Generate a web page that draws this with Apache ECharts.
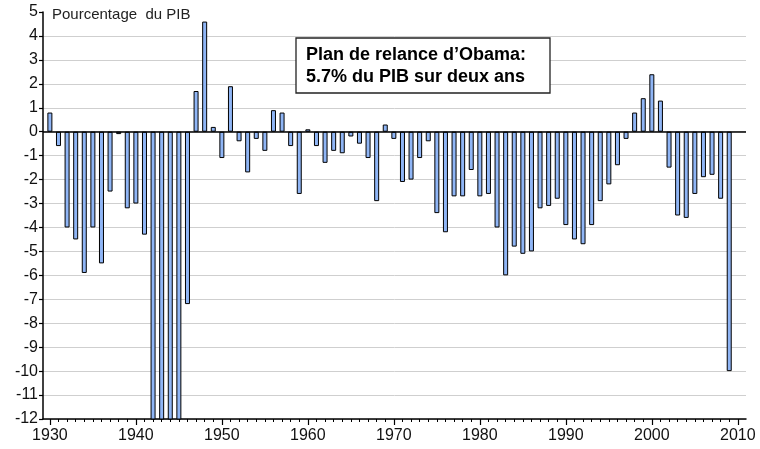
<!DOCTYPE html>
<html>
<head>
<meta charset="utf-8">
<script src="https://cdn.jsdelivr.net/npm/echarts@6/dist/echarts.min.js"></script>
<style>
html,body{margin:0;padding:0;background:#fff;}
#c{width:760px;height:449px;}
</style>
</head>
<body>
<div id="c"></div>
<script>
// Federal budget balance, % of GDP
var years = [];
for (var y = 1930; y <= 2009; y++) years.push(y);
var balance = [
  0.8, -0.6, -4.0, -4.5, -5.9, -4.0, -5.5, -2.5, -0.1, -3.2,
  -3.0, -4.3, -14.2, -30.3, -22.7, -21.5, -7.2, 1.7, 4.6, 0.2,
  -1.1, 1.9, -0.4, -1.7, -0.3, -0.8, 0.9, 0.8, -0.6, -2.6,
  0.1, -0.6, -1.3, -0.8, -0.9, -0.2, -0.5, -1.1, -2.9, 0.3,
  -0.3, -2.1, -2.0, -1.1, -0.4, -3.4, -4.2, -2.7, -2.7, -1.6,
  -2.7, -2.6, -4.0, -6.0, -4.8, -5.1, -5.0, -3.2, -3.1, -2.8,
  -3.9, -4.5, -4.7, -3.9, -2.9, -2.2, -1.4, -0.3, 0.8, 1.4,
  2.4, 1.3, -1.5, -3.5, -3.6, -2.6, -1.9, -1.8, -2.8, -10.0
];
var decadeTicks = [1930, 1940, 1950, 1960, 1970, 1980, 1990, 2000, 2010];
var yearTicks = [];
for (var t = 1930; t <= 2010; t++) yearTicks.push(t);
var unitLabel = 'Pourcentage  du PIB';
var noteLines = ['Plan de relance d\u2019Obama:', '5.7% du PIB sur deux ans'];

var data = years.map(function (yr, i) { return [yr, balance[i]]; });
var gridColors = [];
for (var k = 0; k < 17; k++) gridColors.push('#cfcfcf');
gridColors.push('rgba(0,0,0,0)');

var FONT = '"Liberation Sans", Arial, sans-serif';
var chart = echarts.init(document.getElementById('c'));
chart.setOption({
  animation: false,
  backgroundColor: '#fff',
  grid: { left: 43, right: 14, top: 12, bottom: 30, containLabel: false },
  xAxis: [{
    type: 'value', min: 1929.2, max: 2010.95, position: 'bottom',
    axisLine: { show: true, onZero: false, lineStyle: { color: '#000', width: 1.5 } },
    axisTick: { show: true, customValues: decadeTicks, length: 6, lineStyle: { color: '#000', width: 1.2 } },
    axisLabel: { show: true, customValues: decadeTicks, margin: 9, color: '#111', fontSize: 16, fontFamily: FONT,
      formatter: function (v) { return String(Math.round(v)); } },
    splitLine: { show: false }
  }, {
    type: 'value', min: 1929.2, max: 2010.95, position: 'bottom',
    axisLine: { show: false, onZero: false },
    axisTick: { show: true, customValues: yearTicks, length: 3, lineStyle: { color: '#000', width: 1 } },
    axisLabel: { show: false },
    splitLine: { show: false }
  }],
  yAxis: {
    type: 'value', min: -12, max: 5, interval: 1,
    axisLine: { show: true, onZero: false, lineStyle: { color: '#000', width: 1.5 } },
    axisTick: { show: true, length: 4, lineStyle: { color: '#000', width: 1.2 } },
    axisLabel: { margin: 5, color: '#111', fontSize: 16, fontFamily: FONT },
    splitLine: { show: true, lineStyle: { color: gridColors, width: 1 } }
  },
  series: [{
    type: 'bar', xAxisIndex: 0, data: data, barWidth: 5, clip: true,
    itemStyle: { color: '#8fb5f5', borderColor: '#000', borderWidth: 1 },
    markLine: {
      silent: true, symbol: 'none', label: { show: false },
      lineStyle: { color: '#000', width: 1.5, type: 'solid' },
      data: [{ yAxis: 0 }]
    }
  }],
  graphic: [
    { type: 'text', left: 52, top: 7, z: 10,
      style: { text: unitLabel, fill: '#222', font: '15px ' + FONT } },
    { type: 'rect', shape: { x: 296, y: 38, width: 254, height: 55 }, z: 10,
      style: { fill: '#fff', stroke: '#222', lineWidth: 1.3 } },
    { type: 'text', x: 306, y: 55, z: 11,
      style: { text: noteLines[0], fill: '#000', font: 'bold 18px ' + FONT, verticalAlign: 'middle' } },
    { type: 'text', x: 306, y: 77, z: 11,
      style: { text: noteLines[1], fill: '#000', font: 'bold 18px ' + FONT, verticalAlign: 'middle' } }
  ]
});
</script>
</body>
</html>
